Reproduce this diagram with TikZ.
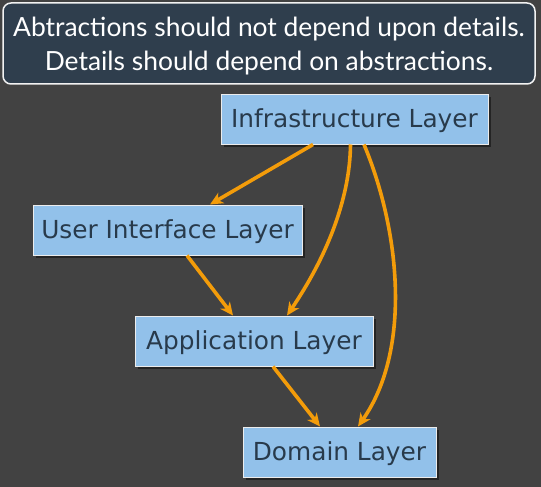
\documentclass[tikz,border=0pt]{standalone}
\usepackage{fontspec}
\setmainfont{DejaVu Sans}
\newfontfamily\titlefont{Lato}
\usetikzlibrary{arrows.meta,shadows}
\definecolor{bggray}{RGB}{66,66,66}
\definecolor{titlefill}{RGB}{47,62,77}
\definecolor{layerblue}{RGB}{146,193,234}
\definecolor{layertext}{RGB}{40,58,75}
\definecolor{deporange}{RGB}{243,156,10}

\begin{document}
\begin{tikzpicture}[x=1pt,y=-1pt,
    layer/.style={draw=white!85!gray, line width=1pt, fill=layerblue, text=layertext,
      minimum height=50pt, text height=20pt, text depth=3pt, font=\fontsize{24.8}{30}\selectfont,
      drop shadow={shadow xshift=3pt, shadow yshift=-3pt, opacity=0.45, fill=black}},
    dep/.style={deporange, line width=3.6pt, -{Stealth[length=13pt,width=12pt,inset=4pt]}}]
    % Background
    \fill[bggray] (0,0) rectangle (541,487);

    % Title
    \node[draw=white!90!gray, fill=titlefill, rounded corners=8pt, line width=1.5pt,
      minimum width=532pt, minimum height=81pt, text=white, align=center, text depth=-8pt,
      font=\titlefont\fontsize{26.4}{34}\selectfont] (title) at (269,43.5)
      {Abtractions should not depend upon details.\\Details should depend on abstractions.};

    % Layers
    \node[layer, minimum width=267pt] (infra) at (354.5,119) {Infrastructure Layer};
    \node[layer, minimum width=269pt] (ui) at (167.5,230) {User Interface Layer};
    \node[layer, minimum width=238pt] (app) at (254,341) {Application Layer};
    \node[layer, minimum width=193pt] (dom) at (339.5,452) {Domain Layer};

    % Dependencies
    \draw[dep] ([xshift=-41.5pt]infra.south) -- ([xshift=42.5pt]ui.north);
    \draw[dep] ([xshift=-4pt]infra.south) .. controls +(-0.5,56) and +(38,-56) .. ([xshift=33pt]app.north);
    \draw[dep] ([xshift=9.5pt]infra.south) .. controls +(36,86) and +(54,-77) .. ([xshift=18.5pt]dom.north);
    \draw[dep] ([xshift=19.5pt]ui.south) -- ([xshift=-21pt]app.north);
    \draw[dep] ([xshift=19pt]app.south) -- ([xshift=-19.5pt]dom.north);
\end{tikzpicture}
\end{document}
